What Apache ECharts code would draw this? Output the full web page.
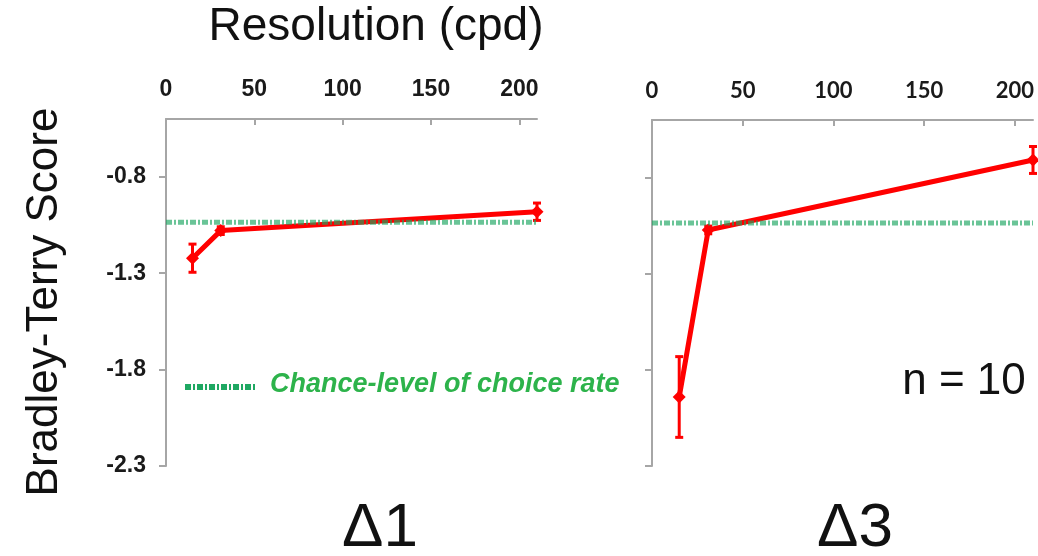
<!DOCTYPE html>
<html>
<head>
<meta charset="utf-8">
<script src="https://cdn.jsdelivr.net/npm/echarts@6/dist/echarts.min.js"></script>
<style>
html,body{margin:0;padding:0;background:#fff;}
#chart{width:1038px;height:556px;}
</style>
</head>
<body>
<div id="chart"></div>
<script>
// ---- data ----
const resolution = [15, 31, 210];            // cpd
const scoreD1 = [-1.222, -1.079, -0.981];     // Δ1 Bradley-Terry score
const errD1   = [0.073, 0.02, 0.045];
const scoreD3 = [-1.941, -1.072, -0.708];     // Δ3 Bradley-Terry score
const errD3   = [0.21, 0.02, 0.07];
const chanceLevel = -1.036;
const xTicks = [0, 50, 100, 150, 200];
const yTicks = [-2.3, -1.8, -1.3, -0.8];
const panelLabels = ['\u03941', '\u03943'];

const chart = echarts.init(document.getElementById('chart'), null, {renderer: 'canvas'});

const axisGray = '#a6a6a6';
const red = '#ff0000';

function xAxisCfg(gi, font) {
  return {
    gridIndex: gi, type: 'value', position: 'top', min: 0, max: 210, interval: 50,
    axisLine: {show: true, onZero: false, lineStyle: {color: axisGray, width: 2}},
    axisTick: {show: true, inside: true, length: 6, lineStyle: {color: axisGray, width: 2}, customValues: xTicks},
    axisLabel: {show: true, margin: 18, customValues: xTicks,
      fontFamily: font, fontWeight: 'bold', fontSize: gi === 0 ? 23 : 22, color: '#1a1a1a'},
    splitLine: {show: false}
  };
}
function yAxisCfg(gi, showLabels) {
  return {
    gridIndex: gi, type: 'value', min: -2.3, max: -0.5, interval: 0.5,
    axisLine: {show: true, onZero: false, lineStyle: {color: axisGray, width: 2}},
    axisTick: {show: true, inside: false, length: 7, lineStyle: {color: axisGray, width: 2}, customValues: yTicks},
    axisLabel: {show: showLabels, margin: 20, customValues: yTicks,
      fontFamily: 'Liberation Sans', fontWeight: 'bold', fontSize: 23, color: '#1a1a1a',
      formatter: v => v.toFixed(1)},
    splitLine: {show: false}
  };
}

function pairs(xs, ys) { return xs.map((x, i) => [x, ys[i]]); }
function triples(xs, ys, es) { return xs.map((x, i) => [x, ys[i], es[i]]); }

function errRender(params, api) {
  const x = api.value(0), y = api.value(1), e = api.value(2);
  const t = api.coord([x, y + e]);
  const b = api.coord([x, y - e]);
  const hw = 4;
  const st = {stroke: red, lineWidth: 3};
  return {type: 'group', children: [
    {type: 'line', shape: {x1: t[0], y1: t[1], x2: b[0], y2: b[1]}, style: st},
    {type: 'line', shape: {x1: t[0] - hw, y1: t[1], x2: t[0] + hw, y2: t[1]}, style: st},
    {type: 'line', shape: {x1: b[0] - hw, y1: b[1], x2: b[0] + hw, y2: b[1]}, style: st}
  ]};
}

function panelSeries(gi, ys, es) {
  return [
    {type: 'custom', xAxisIndex: gi, yAxisIndex: gi, renderItem: errRender,
     data: triples(resolution, ys, es), clip: false, z: 3, silent: true},
    {type: 'line', xAxisIndex: gi, yAxisIndex: gi, data: pairs(resolution, ys),
     lineStyle: {color: red, width: 5}, itemStyle: {color: red},
     symbol: 'diamond', symbolSize: 13, showSymbol: true, clip: false, z: 4, silent: true,
     animation: false},
    {type: 'line', xAxisIndex: gi, yAxisIndex: gi, data: [[0, chanceLevel], [210, chanceLevel]],
     lineStyle: {color: '#1aa55f', width: 5, type: [6, 2, 2, 2], opacity: 0.65},
     symbol: 'none', z: 5, silent: true, animation: false}
  ];
}

const option = {
  animation: false,
  backgroundColor: '#ffffff',
  grid: [
    {left: 166, top: 119, width: 371, height: 347, containLabel: false},
    {left: 652, top: 120, width: 381, height: 346, containLabel: false}
  ],
  xAxis: [xAxisCfg(0, 'Liberation Sans'), xAxisCfg(1, 'Lato')],
  yAxis: [yAxisCfg(0, true), yAxisCfg(1, false)],
  series: [].concat(panelSeries(0, scoreD1, errD1), panelSeries(1, scoreD3, errD3)),
  graphic: [
    {type: 'text', x: 376, y: 27, style: {text: 'Resolution (cpd)', font: '46px "Liberation Sans"',
      fill: '#111', align: 'center', verticalAlign: 'middle'}},
    {type: 'text', x: 45, y: 302, rotation: Math.PI / 2, style: {text: 'Bradley-Terry Score',
      font: '44px "Liberation Sans"', fill: '#111', align: 'center', verticalAlign: 'middle'}},
    {type: 'text', x: 380, y: 529, style: {text: panelLabels[0], font: '62px "Liberation Sans"',
      fill: '#111', align: 'center', verticalAlign: 'middle'}},
    {type: 'text', x: 855, y: 529, style: {text: panelLabels[1], font: '62px "Liberation Sans"',
      fill: '#111', align: 'center', verticalAlign: 'middle'}},
    {type: 'text', x: 964, y: 382, style: {text: 'n = 10', font: '44px "Liberation Sans"',
      fill: '#111', align: 'center', verticalAlign: 'middle'}},
    {type: 'line', shape: {x1: 185, y1: 387, x2: 257, y2: 387},
      style: {stroke: '#1fa862', lineWidth: 6, lineDash: [6, 2, 2, 2]}},
    {type: 'text', x: 270, y: 385, style: {text: 'Chance-level of choice rate',
      font: 'italic bold 27px "Liberation Sans"', fill: '#2db34b', align: 'left', verticalAlign: 'middle'}}
  ]
};
chart.setOption(option);
</script>
</body>
</html>
